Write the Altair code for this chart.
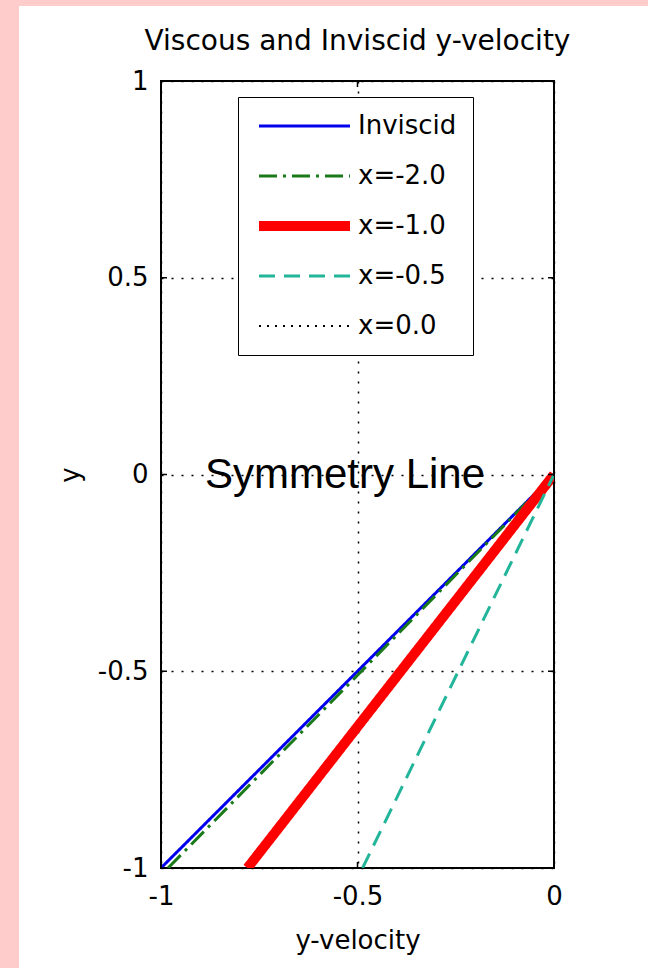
import altair as alt
import pandas as pd

# ---- data ----
series = ["Inviscid", "x=-2.0", "x=-1.0", "x=-0.5", "x=0.0"]
colors = ["#0000EE", "#1A7A1A", "#FF0000", "#22B59A", "#000000"]
widths = [3, 3, 10, 3, 2]
dashes = [[1, 0], [18, 6, 3, 6], [1, 0], [16, 9], [2, 6]]

inviscid_v = [-1.0, 0.0]
inviscid_y = [-1.0, 0.0]
x20_v = [-0.982, -0.49, 0.0]
x20_y = [-1.0, -0.5, 0.0]
x10_v = [-0.78, 0.0]
x10_y = [-1.0, 0.0]
x05_v = [-0.487, 0.0]
x05_y = [-1.0, 0.0]
x00_v = [0.0, 0.0]
x00_y = [-1.0, 1.0]

x_ticks = [-1.0, -0.5, 0.0]
y_ticks = [-1.0, -0.5, 0.0, 0.5, 1.0]

annot_text = ["Symmetry Line"]
annot_v = [-0.888]
annot_y = [0.0]

# ---- tables ----
rows = []
for s, vs, ys in [
    ("Inviscid", inviscid_v, inviscid_y),
    ("x=-2.0", x20_v, x20_y),
    ("x=-1.0", x10_v, x10_y),
    ("x=-0.5", x05_v, x05_y),
    ("x=0.0", x00_v, x00_y),
]:
    for i, (v, y) in enumerate(zip(vs, ys)):
        rows.append({"series": s, "v": v, "y": y, "i": i})
df = pd.DataFrame(rows)

W, H = 393, 787
FONT = "DejaVu Sans"

xscale = alt.Scale(domain=[-1, 0], nice=False, zero=False)
yscale = alt.Scale(domain=[-1, 1], nice=False, zero=False)

leg = alt.Legend(
    title=None, orient="none", legendX=77, legendY=16,
    strokeColor="black", fillColor="white", padding=16,
    symbolType="stroke", symbolSize=8281, clipHeight=26,
    labelFont=FONT, labelFontSize=26, labelColor="black",
    rowPadding=24, labelOffset=3,
)

xaxis = alt.Axis(values=x_ticks, labelExpr="toString(datum.value)",
                 labelPadding=15, titlePadding=18)
yaxis = alt.Axis(values=y_ticks, labelExpr="toString(datum.value)",
                 labelPadding=13, titlePadding=14)

lines = alt.Chart(df).mark_line(clip=True).encode(
    x=alt.X("v:Q", scale=xscale, title="y-velocity", axis=xaxis),
    y=alt.Y("y:Q", scale=yscale, title="y", axis=yaxis),
    color=alt.Color("series:O", scale=alt.Scale(type="ordinal", domain=series, range=colors), legend=leg),
    strokeDash=alt.StrokeDash("series:O", scale=alt.Scale(type="ordinal", domain=series, range=dashes), legend=leg),
    strokeWidth=alt.StrokeWidth("series:O", scale=alt.Scale(type="ordinal", domain=series, range=widths), legend=leg),
    order="i:Q",
)

ydf = pd.DataFrame({"y": y_ticks})
xdf = pd.DataFrame({"v": x_ticks})
tick_l = alt.Chart(ydf).mark_rule(color="black", strokeWidth=1.5).encode(
    y=alt.Y("y:Q", scale=yscale, title="y", axis=yaxis), x=alt.value(0), x2=alt.value(6))
tick_r = alt.Chart(ydf).mark_rule(color="black", strokeWidth=1.5).encode(
    y=alt.Y("y:Q", scale=yscale, title="y", axis=yaxis), x=alt.value(W - 6), x2=alt.value(W))
tick_b = alt.Chart(xdf).mark_rule(color="black", strokeWidth=1.5).encode(
    x=alt.X("v:Q", scale=xscale, title="y-velocity", axis=xaxis), y=alt.value(H - 6), y2=alt.value(H))
tick_t = alt.Chart(xdf).mark_rule(color="black", strokeWidth=1.5).encode(
    x=alt.X("v:Q", scale=xscale, title="y-velocity", axis=xaxis), y=alt.value(0), y2=alt.value(6))

annot = alt.Chart(pd.DataFrame({"t": annot_text, "v": annot_v, "y": annot_y})).mark_text(
    font="Liberation Sans", fontSize=42, align="left", baseline="alphabetic", dy=13, color="black"
).encode(x=alt.X("v:Q", scale=xscale, title="y-velocity", axis=xaxis),
         y=alt.Y("y:Q", scale=yscale, title="y", axis=yaxis), text="t:N")

one = pd.DataFrame({"k": [0]})
pink_left = alt.Chart(one).mark_rect(color="#FFCCCC").encode(
    x=alt.value(-161), x2=alt.value(-142), y=alt.value(-81), y2=alt.value(968 - 81))
pink_top = alt.Chart(one).mark_rect(color="#FFCCCC").encode(
    x=alt.value(-161), x2=alt.value(648 - 161), y=alt.value(-81), y2=alt.value(-75))

chart = alt.layer(pink_left, pink_top, lines, tick_l, tick_r, tick_b, tick_t, annot).properties(
    width=W, height=H,
    autosize=alt.AutoSizeParams(type="none"),
    padding={"left": 161, "top": 81, "right": 648 - 161 - W, "bottom": 968 - 81 - H},
    title=alt.TitleParams("Viscous and Inviscid y-velocity", font=FONT, fontSize=28,
                          fontWeight="normal", color="black", offset=-56, anchor="middle",
                          frame="group"),
    background="white",
).configure_view(stroke="black", strokeWidth=2).configure_axis(
    labelFont=FONT, labelFontSize=26, labelColor="black", labelFlush=False,
    titleFont=FONT, titleFontSize=26, titleFontWeight="normal", titleColor="black",
    ticks=False, tickSize=0, domain=False, grid=True, gridColor="black",
    gridDash=[2, 8], gridWidth=1.5, gridOpacity=1,
)

chart.save("out.html", embed_options={"renderer": "svg", "actions": False})
